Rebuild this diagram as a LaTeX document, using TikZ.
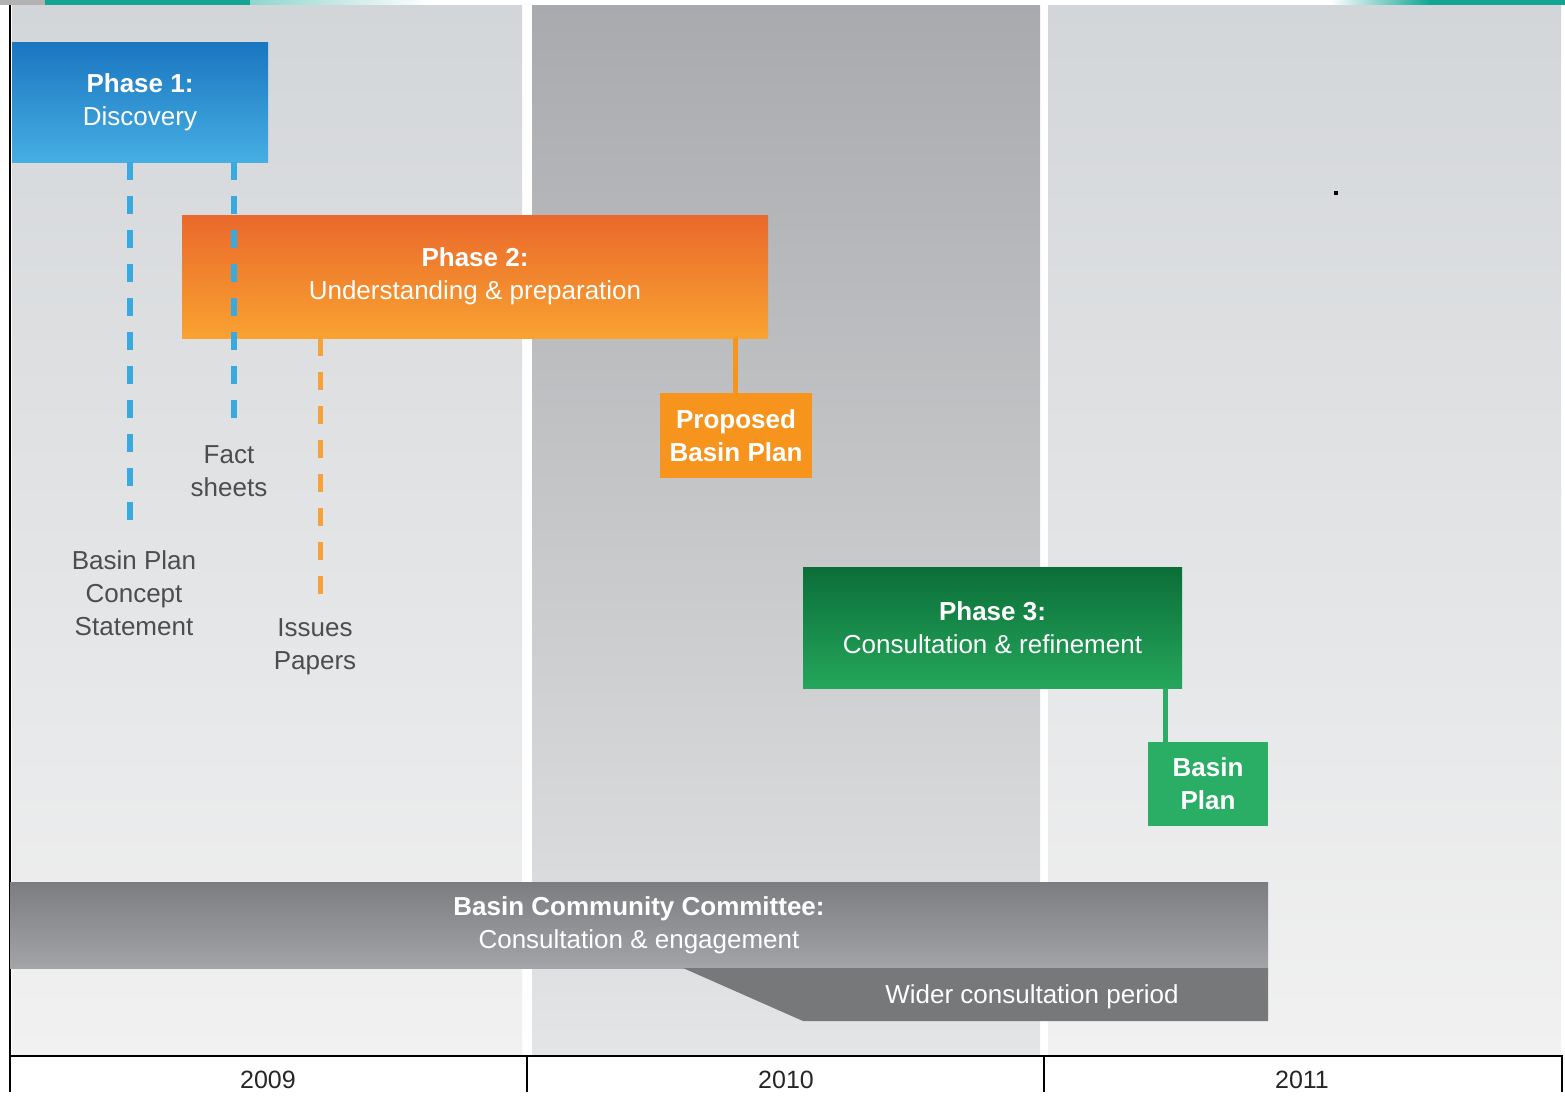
\documentclass[tikz,border=0pt]{standalone}
\usepackage{fontspec}
\setmainfont{Liberation Sans}
\definecolor{colA}{HTML}{D3D6D9}
\definecolor{colAb}{HTML}{F1F1F1}
\definecolor{colB}{HTML}{A8AAAD}
\definecolor{colBb}{HTML}{E4E5E6}
\definecolor{blueT}{HTML}{1A76C0}
\definecolor{blueB}{HTML}{46AEE3}
\definecolor{blueDash}{HTML}{3AA9DD}
\definecolor{orT}{HTML}{EA692B}
\definecolor{orB}{HTML}{F9A231}
\definecolor{orDash}{HTML}{F6A23A}
\definecolor{orFlat}{HTML}{F7941E}
\definecolor{grT}{HTML}{0B6E38}
\definecolor{grB}{HTML}{25A65B}
\definecolor{grFlat}{HTML}{2AAD64}
\definecolor{bccT}{HTML}{7B7D80}
\definecolor{bccB}{HTML}{A2A4A7}
\definecolor{wideC}{HTML}{76787A}
\definecolor{labelC}{HTML}{4D4D4D}
\definecolor{tealC}{HTML}{12A594}
\begin{document}
\begin{tikzpicture}[x=1pt,y=-1pt,
  txt/.style={font=\fontsize{26}{33}\selectfont},
  boxnode/.style={txt, inner sep=0pt, align=center, text=white},
  lbl/.style={txt, inner sep=0pt, align=center, text=labelC},
  yearlbl/.style={font=\fontsize{25}{30}\selectfont, inner sep=0pt, text=black!85},
  bluedash/.style={draw=blueDash, line width=6pt, dash pattern=on 18pt off 16pt},
  ordash/.style={draw=orDash, line width=5pt, dash pattern=on 18pt off 16pt},
  axisline/.style={line width=2.5pt, black}]
\useasboundingbox (0,0) rectangle (1565,1096);
\fill[white] (0,0) rectangle (1565,1096);
% top decorations
\fill[gray!60] (0,0) rectangle (45,5);
\shade[left color=tealC, right color=white] (45,0) rectangle (430,5);
\fill[tealC] (45,0) rectangle (250,5);
\shade[left color=white, right color=tealC] (1330,0) rectangle (1430,5);
\fill[tealC] (1430,0) rectangle (1565,5);
% year columns
\shade[top color=colA, bottom color=colAb] (12,5) rectangle (522,1056);
\shade[top color=colB, bottom color=colBb] (532,5) rectangle (1040,1056);
\shade[top color=colA, bottom color=colAb] (1048,5) rectangle (1561,1056);
% small dot
\fill[black] (1334,191) rectangle (1338,195);
% axes
\draw[axisline] (10,5) -- (10,1092);
\draw[axisline] (10,1056) -- (1562,1056) -- (1562,1092);
\draw[axisline] (527,1056) -- (527,1092);
\draw[axisline] (1044,1056) -- (1044,1092);
\node[yearlbl] (y2009) at (268,1080) {2009};
\node[yearlbl] (y2010) at (786,1080) {2010};
\node[yearlbl] (y2011) at (1302,1080) {2011};
% phase 1
\node[boxnode, minimum width=256pt, minimum height=120pt, top color=blueT, bottom color=blueB] (p1) at (140,102) {\textbf{Phase 1:}\\Discovery};
\coordinate (bpcsEnd) at (130,530);
\coordinate (factEnd) at (234,425);
\draw[bluedash] (p1.south -| bpcsEnd) -- (bpcsEnd);
% phase 2
\node[boxnode, minimum width=586pt, minimum height=123pt, top color=orT, bottom color=orB] (p2) at (475,276.5) {\textbf{Phase 2:}\\Understanding \& preparation};
\draw[bluedash] (p1.south -| factEnd) -- (factEnd);
\coordinate (issEnd) at (320,600);
\draw[ordash] (p2.south -| issEnd) -- (issEnd);
% labels
\node[lbl] (fact) at (229,471.5) {Fact\\sheets};
\node[lbl] (bpcs) at (134,593) {Basin Plan\\Concept\\Statement};
\node[lbl] (iss) at (315,646.5) {Issues\\Papers};
% proposed basin plan
\node[boxnode, minimum width=152pt, minimum height=85pt, fill=orFlat] (prop) at (736,435.5) {\textbf{Proposed}\\\textbf{Basin Plan}};
\coordinate (propTop) at (735,393);
\draw[orFlat, line width=5pt] (p2.south -| propTop) -- (propTop);
% phase 3
\node[boxnode, minimum width=379pt, minimum height=121pt, top color=grT, bottom color=grB] (p3) at (992.5,627.5) {\textbf{Phase 3:}\\Consultation \& refinement};
\node[boxnode, minimum width=120pt, minimum height=84pt, fill=grFlat] (bp) at (1208,784) {\textbf{Basin}\\\textbf{Plan}};
\coordinate (bpTop) at (1165,742);
\draw[grFlat, line width=5pt] (p3.south -| bpTop) -- (bpTop);
% community committee
\node[boxnode, minimum width=1258pt, minimum height=86pt, top color=bccT, bottom color=bccB] (bcc) at (639,925) {\textbf{Basin Community Committee:}\\Consultation \& engagement};
\fill[wideC] (683,968) -- (803,1021) -- (1268,1021) -- (1268,968) -- cycle;
\node[txt, text=white, inner sep=0pt] (wide) at (1032,997) {Wider consultation period};
\end{tikzpicture}
\end{document}
